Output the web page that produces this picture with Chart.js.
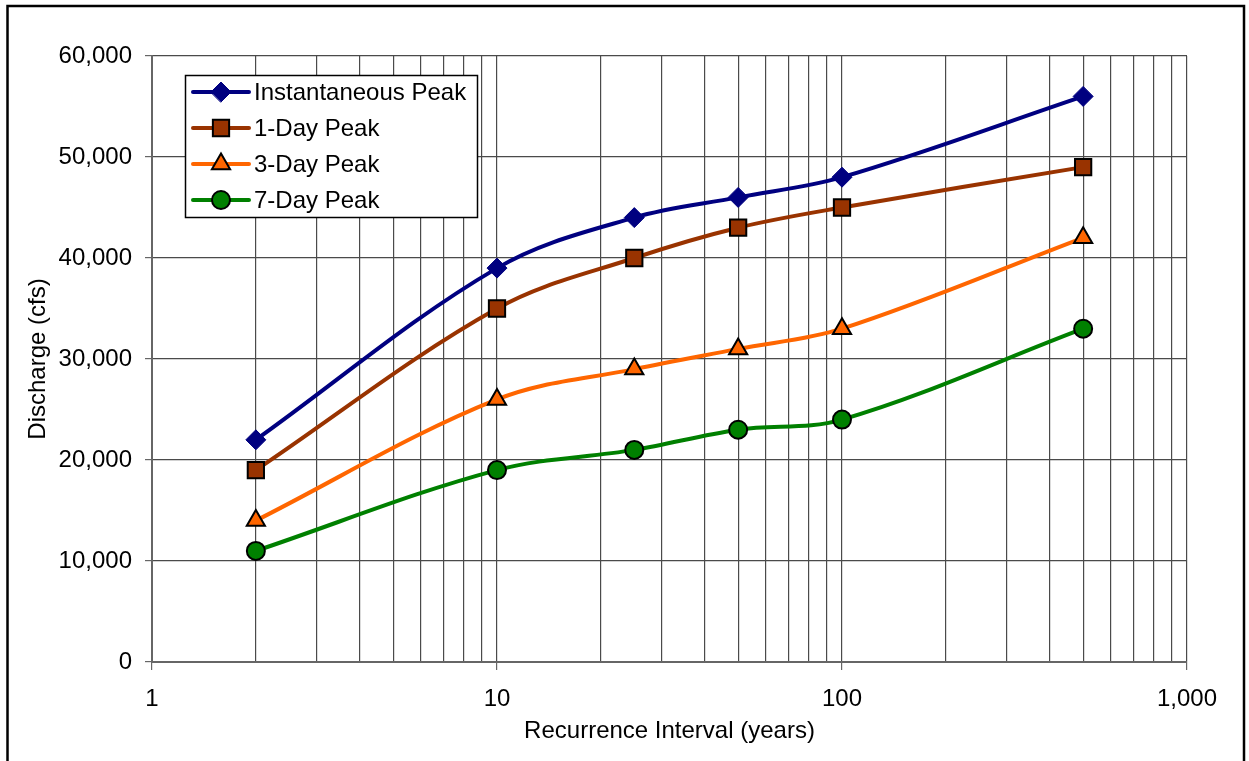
<!DOCTYPE html>
<html>
<head>
<meta charset="utf-8">
<script src="https://cdn.jsdelivr.net/npm/chart.js@4/dist/chart.umd.min.js"></script>
<style>
  html, body { margin: 0; padding: 0; background: #fff; }
  #wrap { width: 1249px; height: 761px; position: relative; }
</style>
</head>
<body>
<div id="wrap"><canvas id="c" width="1249" height="761"></canvas></div>
<script>
const recurrenceYears = [2, 10, 25, 50, 100, 500];
const seriesNames = ['Instantaneous Peak', '1-Day Peak', '3-Day Peak', '7-Day Peak'];
const instantaneousPeak = [22000, 39000, 44000, 46000, 48000, 56000];
const oneDayPeak = [19000, 35000, 40000, 43000, 45000, 49000];
const threeDayPeak = [14000, 26000, 29000, 31000, 33000, 42000];
const sevenDayPeak = [11000, 19000, 21000, 23000, 24000, 33000];
const xTickValues = [1,2,3,4,5,6,7,8,9,10,20,30,40,50,60,70,80,90,100,200,300,400,500,600,700,800,900,1000];
const xMajorTicks = [1, 10, 100, 1000];
const yTickValues = [0, 10000, 20000, 30000, 40000, 50000, 60000];

const FONT = "'Liberation Sans', Arial, sans-serif";
const FS = 24;
const GRID = '#4a4a4a';

function pts(vals) { return recurrenceYears.map((x, i) => ({ x: x, y: vals[i] })); }

const styles = [
  { color: '#000080', fill: '#000080', border: '#000080', pointStyle: 'rectRot', r: 10, bw: 1 },
  { color: '#993300', fill: '#993300', border: '#000000', pointStyle: 'rect', r: 11.5, bw: 2 },
  { color: '#FF6600', fill: '#FF6600', border: '#000000', pointStyle: 'triangle', r: 10.5, bw: 2 },
  { color: '#008000', fill: '#008000', border: '#000000', pointStyle: 'circle', r: 9, bw: 2 }
];
const seriesVals = [instantaneousPeak, oneDayPeak, threeDayPeak, sevenDayPeak];

const datasets = seriesNames.map((name, i) => ({
  label: name,
  data: pts(seriesVals[i]),
  borderColor: styles[i].color,
  backgroundColor: styles[i].fill,
  borderWidth: 4,
  tension: 0.35,
  pointStyle: styles[i].pointStyle,
  pointRadius: styles[i].r,
  pointHoverRadius: styles[i].r,
  pointBackgroundColor: styles[i].fill,
  pointBorderColor: styles[i].border,
  pointBorderWidth: styles[i].bw,
  fill: false,
  clip: false
}));

const frameAndLegend = {
  id: 'frameAndLegend',
  afterDraw(chart) {
    const ctx = chart.ctx;
    ctx.save();
    // outer frame
    ctx.strokeStyle = '#000';
    ctx.lineWidth = 2.5;
    ctx.strokeRect(7.5, 6, 1236.5, 800);
    // legend box
    const bx = 185, by = 75, bw = 292, bh = 142;
    ctx.fillStyle = '#fff';
    ctx.fillRect(bx, by, bw, bh);
    ctx.strokeStyle = '#000';
    ctx.lineWidth = 1.5;
    ctx.strokeRect(bx + 0.5, by + 0.5, bw, bh);
    const rows = [92, 128, 164, 200];
    seriesNames.forEach((name, i) => {
      const y = rows[i];
      const s = styles[i];
      ctx.strokeStyle = s.color;
      ctx.lineWidth = 4;
      ctx.lineCap = 'round';
      ctx.beginPath();
      ctx.moveTo(193, y);
      ctx.lineTo(249, y);
      ctx.stroke();
      ctx.fillStyle = s.fill;
      ctx.strokeStyle = s.border;
      ctx.lineWidth = s.bw;
      Chart.helpers.drawPoint(ctx, { pointStyle: s.pointStyle, radius: s.r, rotation: 0, borderWidth: s.bw }, 221, y);
      ctx.fillStyle = '#000';
      ctx.font = FS + 'px ' + FONT;
      ctx.textBaseline = 'middle';
      ctx.textAlign = 'left';
      ctx.fillText(name, 254, y + 1);
    });
    ctx.restore();
  }
};

new Chart(document.getElementById('c'), {
  type: 'line',
  data: { datasets: datasets },
  options: {
    responsive: false,
    animation: false,
    devicePixelRatio: 1,
    layout: { padding: { left: 0, right: 62, top: 56, bottom: 0 } },
    plugins: {
      legend: { display: false },
      tooltip: { enabled: false }
    },
    scales: {
      x: {
        type: 'logarithmic',
        min: 1,
        max: 1000,
        afterBuildTicks: (s) => { s.ticks = xTickValues.map(v => ({ value: v, major: xMajorTicks.includes(v) })); },
        afterFit: (s) => { s.height = 99; },
        ticks: {
          autoSkip: false,
          maxRotation: 0,
          color: '#000',
          font: { family: FONT, size: FS },
          padding: 15,
          callback: (v) => xMajorTicks.includes(v) ? v.toLocaleString('en-US') : ''
        },
        grid: {
          color: GRID,
          lineWidth: 1.2,
          tickLength: 8,
          tickColor: (c) => (c.tick && xMajorTicks.includes(c.tick.value)) ? '#666' : 'rgba(0,0,0,0)'
        },
        border: { color: '#666', width: 2 },
        title: {
          display: true,
          text: 'Recurrence Interval (years)',
          color: '#000',
          font: { family: FONT, size: FS },
          padding: { top: 0, bottom: 15 }
        }
      },
      y: {
        type: 'linear',
        min: 0,
        max: 60000,
        afterBuildTicks: (s) => { s.ticks = yTickValues.map(v => ({ value: v })); },
        afterFit: (s) => { s.width = 152; },
        ticks: {
          color: '#000',
          font: { family: FONT, size: FS },
          padding: 13,
          callback: (v) => Number(v).toLocaleString('en-US')
        },
        grid: { color: GRID, lineWidth: 1.2, tickLength: 7, tickColor: '#666' },
        border: { color: '#666', width: 2 },
        title: {
          display: true,
          text: 'Discharge (cfs)',
          color: '#000',
          font: { family: FONT, size: FS },
          padding: { top: 24, bottom: 0 }
        }
      }
    }
  },
  plugins: [frameAndLegend]
});
</script>
</body>
</html>
